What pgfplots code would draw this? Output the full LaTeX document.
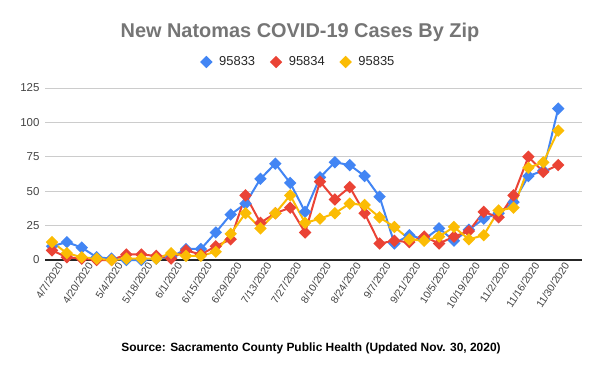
\documentclass[border=0pt]{standalone}
\usepackage{fontspec}
\setmainfont{Liberation Sans}
\usepackage{pgfplots}
\usepackage{pgfplotstable}
\pgfplotsset{compat=1.18}
\definecolor{cblue}{HTML}{4285F4}
\definecolor{cred}{HTML}{EA4335}
\definecolor{cyel}{HTML}{FBBC04}
\definecolor{ctitle}{HTML}{757575}
\definecolor{ctick}{HTML}{444444}
\definecolor{cgrid}{HTML}{CCCCCC}
\pgfplotstableread{
i b r y
0 10 7 13
1 13 2 5
2 9 1 2
3 2 0 1
4 1 0 0
5 0 4 1
6 0 4 1
7 1 3 1
8 2 1 5
9 8 7 3
10 8 4 3
11 20 10 6
12 33 15 19
13 41 47 34
14 59 27 23
15 70 34 34
16 56 38 47
17 35 20 27
18 60 57 30
19 71 44 34
20 69 53 41
21 61 34 40
22 46 12 31
23 12 14 24
24 18 13 15
25 15 17 14
26 23 12 17
27 14 17 24
28 22 21 15
29 30 35 18
30 34 31 36
31 42 47 38
32 61 75 67
33 65 64 71
34 110 69 94
}\data
\begin{document}
\begin{tikzpicture}[x=1bp,y=1bp]
\useasboundingbox (0,0) rectangle (600,373);
\node[font=\bfseries\fontsize{20}{23}\selectfont, text=ctitle] at (300,341) {New Natomas COVID-19 Cases By Zip};
\node[font=\bfseries\fontsize{12}{14}\selectfont, text=black] at (311,25) {Source: Sacramento County Public Health (Updated Nov. 30, 2020)};
\begin{axis}[
  at={(45bp,113bp)}, anchor=south west, scale only axis,
  width=537bp, height=172bp,
  xmin=-0.47, xmax=35.6, ymin=0, ymax=125,
  ytick={0,25,...,125},
  xtick={0,2,...,34},
  xticklabels={4/7/2020,4/20/2020,5/4/2020,5/18/2020,6/1/2020,6/15/2020,6/29/2020,7/13/2020,7/27/2020,8/10/2020,8/24/2020,9/7/2020,9/21/2020,10/5/2020,10/19/2020,11/2/2020,11/16/2020,11/30/2020},
  axis line style={draw=none},
  major tick length=0pt,
  ymajorgrids, grid style={cgrid, line width=0.8bp},
  extra y ticks={0}, extra y tick labels={},
  extra y tick style={grid style={black!85, line width=1.2bp}},
  /pgf/number format/assume math mode=true,
  yticklabel style={font=\fontsize{11.5}{13}\selectfont, text=ctick, xshift=-2bp},
  xticklabel style={font=\fontsize{10.5}{12}\selectfont, text=ctick, rotate=57, anchor=east, xshift=3bp, yshift=-9bp, inner sep=1bp},
  clip=false,
  legend columns=3,
  legend style={at={(0.473,1.151)}, anchor=center, draw=none, fill=none,
    font=\fontsize{13}{15}\selectfont, text=black!85,
    /tikz/every odd column/.append style={column sep=6bp},
    /tikz/every even column/.append style={column sep=14bp}},
  legend image code/.code={\draw[#1, only marks] plot coordinates {(0.1cm,0cm)};},
  every axis plot/.append style={line width=2bp, mark=square*, mark size=3.4bp, mark options={rotate=45, solid}},
]
\addplot[color=cblue] table[x=i, y=b] {\data};
\addlegendentry{95833}
\addplot[color=cred] table[x=i, y=r] {\data};
\addlegendentry{95834}
\addplot[color=cyel] table[x=i, y=y] {\data};
\addlegendentry{95835}
\end{axis}
\end{tikzpicture}
\end{document}
